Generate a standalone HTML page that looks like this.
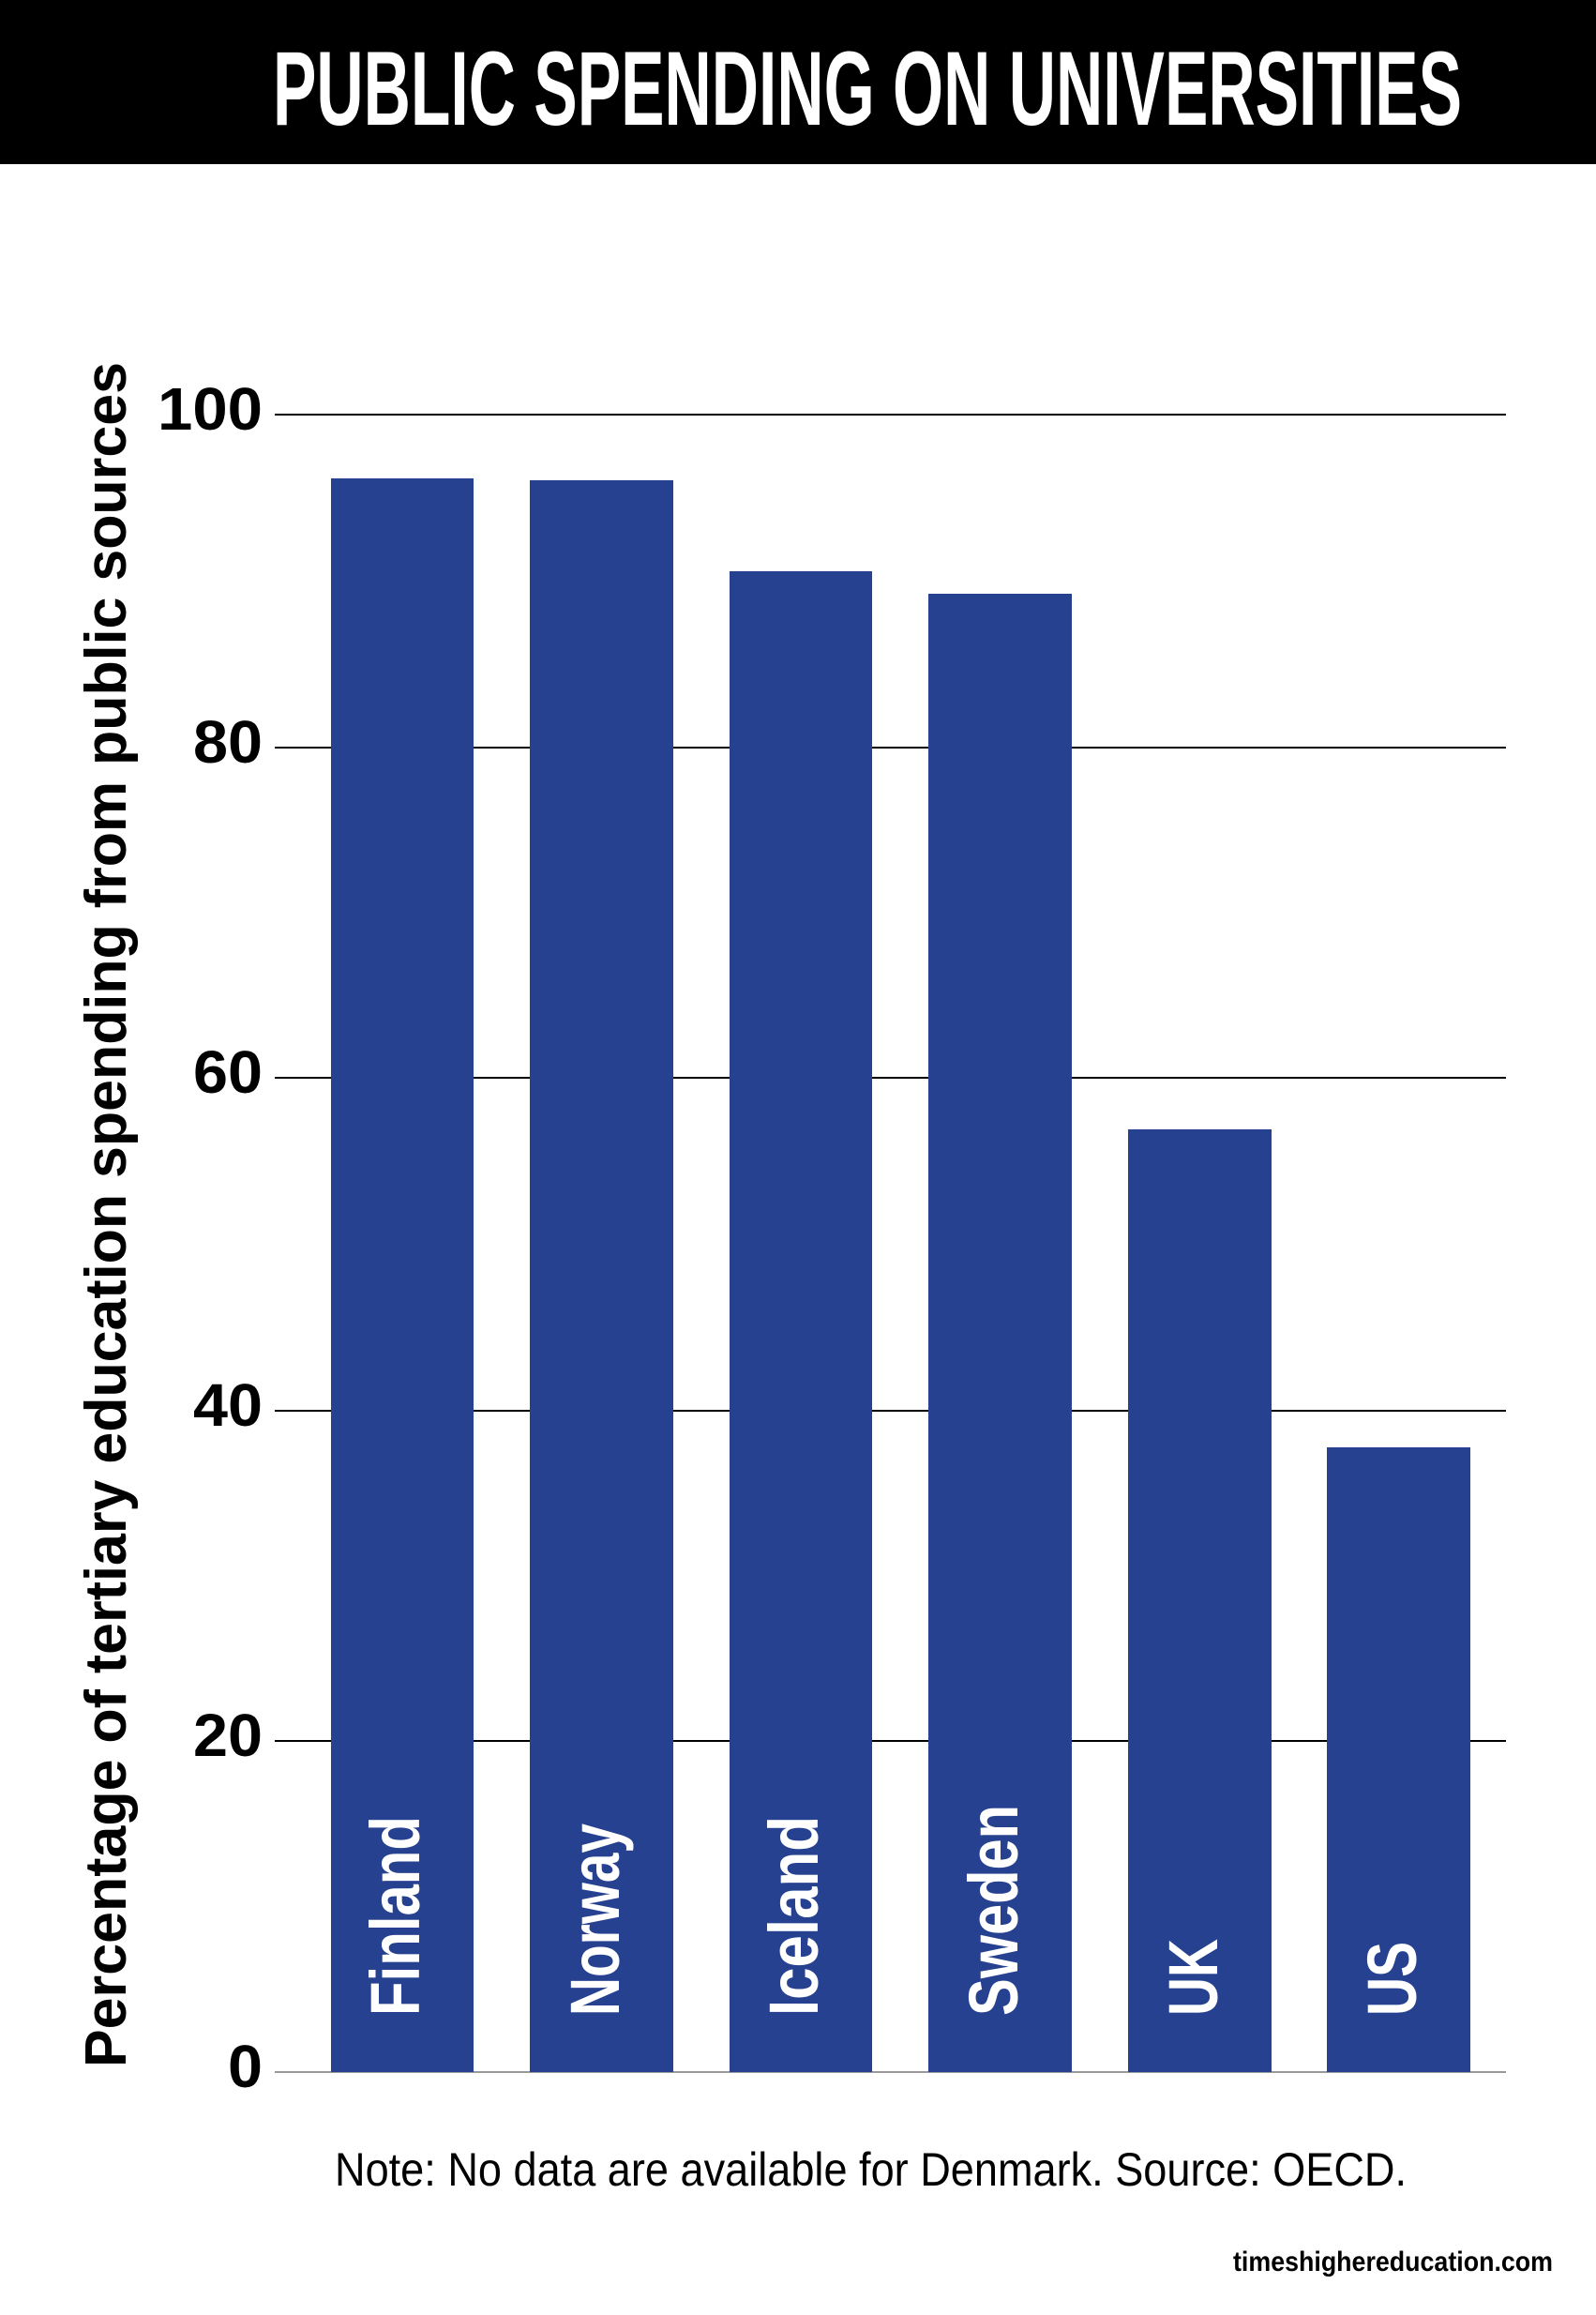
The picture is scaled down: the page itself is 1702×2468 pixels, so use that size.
<!DOCTYPE html>
<html><head><meta charset="utf-8"><style>
html,body{margin:0;padding:0;background:#fff;}
svg{display:block;}
text{font-family:"Liberation Sans",sans-serif;}
</style></head><body>
<svg width="1702" height="2468" viewBox="0 0 1702 2468" xmlns="http://www.w3.org/2000/svg">
<rect x="0" y="0" width="1702" height="175" fill="#000"/>
<text x="291" y="133" font-size="112" font-weight="bold" fill="#fff" textLength="1268" lengthAdjust="spacingAndGlyphs">PUBLIC SPENDING ON UNIVERSITIES</text>
<g stroke="#000" stroke-width="2">
<line x1="293" y1="442" x2="1606" y2="442"/>
<line x1="293" y1="797" x2="1606" y2="797"/>
<line x1="293" y1="1149" x2="1606" y2="1149"/>
<line x1="293" y1="1504" x2="1606" y2="1504"/>
<line x1="293" y1="1856" x2="1606" y2="1856"/>
</g>
<line x1="293" y1="2209" x2="1606" y2="2209" stroke="#999" stroke-width="2"/>
<g fill="#26418f">
<rect x="353" y="510" width="152" height="1699"/>
<rect x="565" y="512" width="153" height="1697"/>
<rect x="778" y="609" width="152" height="1600"/>
<rect x="990" y="633" width="153" height="1576"/>
<rect x="1203" y="1204" width="153" height="1005"/>
<rect x="1415" y="1543" width="153" height="666"/>
</g>
<g font-size="64" font-weight="bold" text-anchor="end" fill="#000">
<text x="280" y="458" textLength="112" lengthAdjust="spacingAndGlyphs">100</text>
<text x="280" y="813" textLength="74" lengthAdjust="spacingAndGlyphs">80</text>
<text x="280" y="1165" textLength="74" lengthAdjust="spacingAndGlyphs">60</text>
<text x="280" y="1520" textLength="74" lengthAdjust="spacingAndGlyphs">40</text>
<text x="280" y="1872" textLength="74" lengthAdjust="spacingAndGlyphs">20</text>
<text x="280" y="2225" textLength="37" lengthAdjust="spacingAndGlyphs">0</text>
</g>
<text transform="translate(134,2204) rotate(-90)" font-size="62" font-weight="bold" fill="#000" textLength="1818" lengthAdjust="spacingAndGlyphs">Percentage of tertiary education spending from public sources</text>
<g font-size="74" font-weight="bold" fill="#fff">
<text transform="translate(447,2149) rotate(-90)" textLength="213" lengthAdjust="spacingAndGlyphs">Finland</text>
<text transform="translate(660,2149) rotate(-90)" textLength="205" lengthAdjust="spacingAndGlyphs">Norway</text>
<text transform="translate(872,2149) rotate(-90)" textLength="213" lengthAdjust="spacingAndGlyphs">Iceland</text>
<text transform="translate(1085,2149) rotate(-90)" textLength="225" lengthAdjust="spacingAndGlyphs">Sweden</text>
<text transform="translate(1298,2149) rotate(-90)" textLength="82" lengthAdjust="spacingAndGlyphs">UK</text>
<text transform="translate(1510,2149) rotate(-90)" textLength="79" lengthAdjust="spacingAndGlyphs">US</text>
</g>
<text x="357" y="2330" font-size="50" fill="#000" textLength="1143" lengthAdjust="spacingAndGlyphs">Note: No data are available for Denmark. Source: OECD.</text>
<text x="1315" y="2421" font-size="30" font-weight="bold" fill="#000" textLength="341" lengthAdjust="spacingAndGlyphs">timeshighereducation.com</text>
</svg>
</body></html>
